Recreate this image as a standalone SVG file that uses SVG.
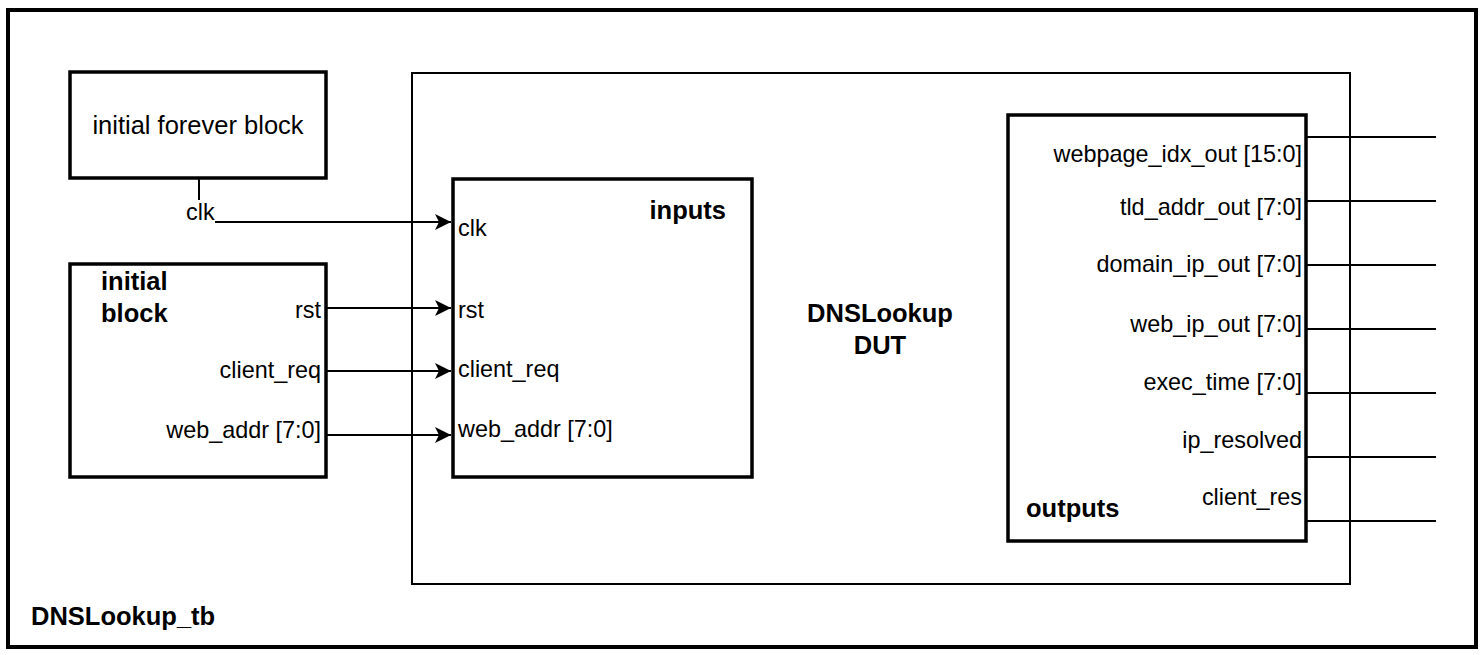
<svg xmlns="http://www.w3.org/2000/svg" width="1482" height="655" viewBox="0 0 1482 655">
<style>
.lbl{font-family:"Liberation Sans",Arial,sans-serif;font-size:23.4px;fill:#000}
.ttl{font-family:"Liberation Sans",Arial,sans-serif;font-size:25.5px;fill:#000}
.b{font-weight:bold}
.r{text-anchor:end}
.c{text-anchor:middle}
.blk{fill:#fff;stroke:#000;stroke-width:3.5}
.wire{fill:none;stroke:#000;stroke-width:2}
</style>
<defs>
<marker id="arr" markerUnits="userSpaceOnUse" markerWidth="20" markerHeight="20" viewBox="-18 -10 20 20" refX="0" refY="0" orient="auto">
<path d="M0,0 L-16,-8 L-12,0 L-16,8 Z" fill="#000"/>
</marker>
</defs>
<rect width="1482" height="655" fill="#fff"/>
<g id="tb">
<rect x="8" y="10" width="1468" height="637" fill="#fff" stroke="#000" stroke-width="4"/>
<text class="ttl b" x="31" y="625">DNSLookup_tb</text>
</g>
<g id="dut">
<rect x="412" y="73" width="938" height="511" fill="#fff" stroke="#000" stroke-width="2"/>
<text class="ttl b c" x="880" y="322">DNSLookup</text>
<text class="ttl b c" x="880" y="354">DUT</text>
</g>
<g id="forever">
<rect class="blk" x="70" y="72" width="256" height="106"/>
<text class="ttl c" x="198" y="134">initial forever block</text>
</g>
<g id="initial">
<rect class="blk" x="70" y="264" width="256" height="213"/>
<text class="ttl b" x="101" y="290">initial</text>
<text class="ttl b" x="101" y="322">block</text>
<text class="lbl r" x="321" y="318">rst</text>
<text class="lbl r" x="321" y="378">client_req</text>
<text class="lbl r" x="321" y="438">web_addr [7:0]</text>
</g>
<g id="inputs">
<rect class="blk" x="453" y="179" width="299" height="298"/>
<text class="ttl b r" x="726" y="219">inputs</text>
<text class="lbl" x="458" y="236">clk</text>
<text class="lbl" x="458" y="318">rst</text>
<text class="lbl" x="458" y="377">client_req</text>
<text class="lbl" x="458" y="437">web_addr [7:0]</text>
</g>
<g id="outputs">
<rect class="blk" x="1008" y="115" width="298" height="426"/>
<text class="lbl r" x="1302" y="162">webpage_idx_out [15:0]</text>
<text class="lbl r" x="1302" y="215">tld_addr_out [7:0]</text>
<text class="lbl r" x="1302" y="272">domain_ip_out [7:0]</text>
<text class="lbl r" x="1302" y="332">web_ip_out [7:0]</text>
<text class="lbl r" x="1302" y="390">exec_time [7:0]</text>
<text class="lbl r" x="1302" y="448">ip_resolved</text>
<text class="lbl r" x="1302" y="505">client_res</text>
<text class="ttl b" x="1026" y="517">outputs</text>
</g>
<g id="clklabel">
<text class="lbl" x="186" y="220">clk</text>
</g>
<g id="connectors">
<path class="wire" d="M199,179 V200"/>
<path class="wire" d="M215,222 H451" marker-end="url(#arr)"/>
<path class="wire" d="M327,308 H451" marker-end="url(#arr)"/>
<path class="wire" d="M327,371 H451" marker-end="url(#arr)"/>
<path class="wire" d="M327,435 H451" marker-end="url(#arr)"/>
<path class="wire" d="M1307,137 H1436"/>
<path class="wire" d="M1307,201 H1436"/>
<path class="wire" d="M1307,265 H1436"/>
<path class="wire" d="M1307,329 H1436"/>
<path class="wire" d="M1307,393 H1436"/>
<path class="wire" d="M1307,457 H1436"/>
<path class="wire" d="M1307,521 H1436"/>
</g>
</svg>
